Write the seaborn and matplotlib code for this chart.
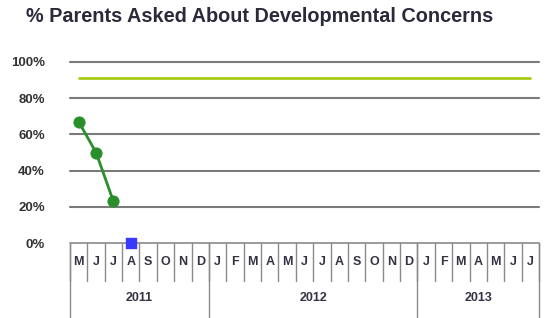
import numpy as np
import pandas as pd
import matplotlib
matplotlib.use('Agg')
import matplotlib.pyplot as plt
import matplotlib.transforms as mtransforms
import seaborn as sns

# Datos
meses = ['M', 'J', 'J', 'A', 'S', 'O', 'N', 'D',
         'J', 'F', 'M', 'A', 'M', 'J', 'J', 'A', 'S', 'O', 'N', 'D',
         'J', 'F', 'M', 'A', 'M', 'J', 'J']
anios = ['2011', '2012', '2013']
meses_por_anio = [8, 12, 7]
porcentaje = [0.67, 0.50, 0.23]          # mayo-julio 2011
punto_azul_mes = [3]                      # agosto 2011
punto_azul_valor = [0.0]
meta = 0.91
y_ticks = [0, 0.2, 0.4, 0.6, 0.8, 1.0]

sns.set_style('white')
plt.rcParams['font.family'] = ['Liberation Sans', 'DejaVu Sans']

fig = plt.figure(figsize=(5.48, 3.18), dpi=100)
ax = fig.add_axes([70 / 548, 1 - 243 / 318, 469 / 548, 181 / 318])

x = np.arange(len(meses))
df = pd.DataFrame({'mes': x[:len(porcentaje)], 'valor': porcentaje})

# Línea meta
ax.plot([x[0], x[-1]], [meta, meta], color='#a6cc1a', lw=2, zorder=2)

sns.lineplot(data=df, x='mes', y='valor', ax=ax, color='#2a8f2a', lw=2,
             marker='o', markersize=8, markeredgecolor='#2a8f2a', zorder=3)
ax.scatter(punto_azul_mes, punto_azul_valor, marker='s', s=60,
           color='#3a3aff', zorder=4, clip_on=False)

ax.set_xlim(-0.5, len(meses) - 0.5)
ax.set_ylim(0, 1.0)
ax.set_yticks(y_ticks)
ax.set_yticklabels([f'{int(v * 100)}%' for v in y_ticks], fontsize=9.5,
                   fontweight='bold', color='#333333')
ax.tick_params(axis='y', length=0, pad=18)
ax.set_xticks([])
ax.set_xlabel('')
ax.set_ylabel('')
for v in y_ticks[1:]:
    ax.axhline(v, color='#7a7a7a', lw=1.5, zorder=1, clip_on=False)
for s in ax.spines.values():
    s.set_visible(False)

# Tabla de meses y años bajo el eje
trans = mtransforms.blended_transform_factory(ax.transData, ax.transAxes)
gris = '#8a8a8a'
ax.plot([-0.5, len(meses) - 0.5], [0, 0], color=gris, lw=1.2, transform=trans, clip_on=False)
for i in range(len(meses) + 1):
    ax.plot([i - 0.5, i - 0.5], [0, -0.21], color=gris, lw=1, transform=trans, clip_on=False)
for i, m in enumerate(meses):
    ax.text(i, -0.105, m, ha='center', va='center', fontsize=9, fontweight='bold',
            color='#333344', transform=trans)

inicio = -0.5
for anio, n in zip(anios, meses_por_anio):
    ax.plot([inicio, inicio], [0, -0.42], color=gris, lw=1, transform=trans, clip_on=False)
    ax.text(inicio + n / 2, -0.305, anio, ha='center', va='center', fontsize=9,
            fontweight='bold', color='#333344', transform=trans)
    inicio += n
ax.plot([inicio, inicio], [0, -0.42], color=gris, lw=1, transform=trans, clip_on=False)

fig.text(260 / 548, 1 - 17 / 318, '% Parents Asked About Developmental Concerns',
         ha='center', va='center', fontsize=14.3, fontweight='bold', color='#2a2a3a')

fig.savefig('out.png', dpi=100)
